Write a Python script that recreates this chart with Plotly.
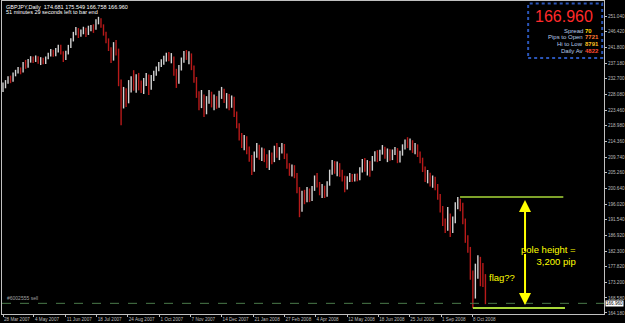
import pandas as pd
import plotly.graph_objects as go

# ---------------- data (3-calendar-day bars) ----------------
first_open = 229.5
closes = [
    230.2, 231.8, 232.6, 232.0, 233.9, 234.6, 235.4, 234.7, 236.9, 236.1,
    237.8, 238.6, 238.0, 238.9, 237.9, 238.4, 237.4, 238.6, 239.7, 240.6,
    239.9, 241.0, 241.9, 240.3, 238.4, 240.1, 242.0, 243.9, 245.8, 247.2,
    245.6, 246.3, 247.1, 245.9, 247.4, 247.9, 247.3, 249.4, 250.1, 248.2,
    246.1, 244.2, 241.6, 238.4, 242.6, 241.0, 232.0, 224.6, 228.6, 226.3,
    229.8, 232.4, 230.1, 233.0, 231.1, 228.9, 231.7, 233.6, 230.4, 232.5,
    234.4, 235.6, 236.9, 237.4, 238.8, 239.6, 238.6, 238.9, 234.8, 231.8,
    235.9, 238.1, 240.2, 239.0, 240.0, 236.2, 232.5, 228.4, 225.4, 227.5,
    223.8, 226.6, 228.6, 225.2, 227.0, 224.8, 228.4, 229.5, 226.3, 228.0,
    224.9, 226.9, 222.6, 219.3, 215.7, 213.9, 215.4, 212.2, 209.8, 206.4,
    210.6, 212.9, 210.3, 211.7, 209.6, 207.9, 210.4, 208.8, 212.4, 210.5,
    211.9, 213.0, 210.1, 207.3, 205.4, 206.8, 204.6, 200.3, 195.1, 198.6,
    196.9, 199.8, 197.4, 200.4, 203.6, 202.1, 199.4, 200.8, 198.6, 201.9,
    205.3, 207.9, 205.8, 207.6, 205.2, 203.4, 201.0, 203.4, 204.3, 203.0,
    204.1, 203.5, 206.0, 208.2, 206.6, 208.4, 206.5, 209.3, 210.6, 209.2,
    211.2, 212.4, 210.1, 211.5, 209.6, 211.3, 212.1, 208.8, 210.9, 212.8,
    214.2, 213.1, 214.4, 212.0, 213.2, 210.8, 209.2, 206.3, 203.4, 204.6,
    202.3, 203.6, 201.5, 198.4, 194.7, 190.8, 189.2, 192.6, 188.4, 191.2,
    195.8, 196.2, 195.3, 191.0, 186.0, 183.1, 175.8, 170.2, 176.1, 179.9,
    175.5, 174.681, 166.960,
]
highs = [
    231.6, 232.3, 233.4, 233.6, 234.5, 235.3, 236.1, 236.0, 237.6, 238.2,
    238.5, 239.3, 239.2, 239.5, 239.3, 239.0, 238.8, 239.2, 240.3, 241.4,
    241.2, 241.7, 242.6, 242.6, 240.7, 240.9, 242.6, 244.5, 246.4, 247.8,
    247.5, 247.1, 247.9, 247.6, 248.2, 248.4, 248.6, 250.1, 250.8, 250.4,
    248.6, 246.4, 244.5, 241.9, 243.4, 244.0, 241.5, 232.5, 230.3, 229.9,
    232.3, 233.4, 235.2, 234.0, 234.4, 232.2, 232.9, 234.4, 233.9, 233.8,
    235.0, 236.3, 237.6, 238.4, 239.4, 240.3, 240.5, 240.2, 239.2, 235.6,
    236.7, 238.9, 240.8, 241.1, 240.7, 240.1, 236.6, 233.2, 229.0, 229.4,
    228.1, 227.6, 229.4, 228.9, 228.1, 227.6, 229.2, 230.3, 229.8, 228.5,
    228.2, 227.8, 227.4, 223.1, 219.7, 216.8, 216.2, 215.9, 212.9, 210.4,
    211.4, 213.9, 213.4, 212.6, 212.3, 210.6, 211.8, 211.1, 213.1, 213.9,
    212.7, 213.9, 213.6, 210.8, 208.0, 207.6, 207.4, 205.1, 201.0, 199.9,
    200.2, 201.0, 200.6, 201.3, 204.4, 205.1, 202.5, 201.9, 201.4, 202.7,
    206.1, 208.9, 208.6, 208.5, 208.0, 206.1, 204.3, 204.2, 205.1, 204.8,
    204.9, 205.0, 206.8, 209.2, 209.5, 208.9, 208.6, 210.1, 211.5, 211.8,
    211.9, 213.3, 212.8, 212.3, 212.1, 212.0, 212.7, 212.4, 211.6, 213.5,
    214.9, 215.6, 215.2, 214.7, 213.9, 213.5, 211.4, 209.6, 207.0, 206.0,
    205.2, 204.4, 204.0, 201.9, 199.0, 195.5, 191.8, 195.2, 193.3, 192.4,
    196.6, 198.1, 197.6, 196.4, 191.8, 186.9, 183.5, 176.6, 178.6, 181.1,
    180.6, 178.8, 175.549,
]
lows = [
    228.8, 229.9, 231.2, 231.4, 231.8, 233.4, 234.2, 234.0, 234.5, 235.6,
    235.9, 237.4, 237.3, 237.6, 237.1, 236.7, 236.9, 237.0, 238.4, 239.2,
    239.1, 239.3, 240.4, 239.8, 237.6, 238.2, 239.8, 241.7, 243.6, 245.4,
    244.6, 245.0, 245.7, 244.9, 245.5, 246.6, 246.1, 247.0, 248.6, 247.6,
    245.3, 243.1, 240.8, 237.3, 238.0, 239.5, 230.5, 219.1, 224.0, 224.4,
    225.5, 228.7, 229.2, 228.6, 229.3, 228.5, 228.2, 230.6, 227.9, 229.5,
    232.0, 233.6, 234.9, 236.1, 236.8, 237.7, 237.8, 237.2, 233.6, 230.0,
    231.2, 235.1, 237.4, 238.2, 236.9, 235.2, 231.5, 227.1, 223.5, 224.1,
    221.5, 222.3, 225.4, 224.3, 223.5, 223.9, 224.2, 226.8, 225.6, 224.0,
    223.5, 224.2, 221.5, 218.2, 214.6, 212.4, 211.8, 210.6, 208.4, 204.5,
    205.5, 209.6, 209.0, 208.6, 208.3, 206.6, 206.0, 207.7, 208.3, 209.6,
    208.9, 210.8, 209.2, 206.4, 204.3, 204.1, 203.6, 199.2, 192.2, 193.8,
    196.0, 196.6, 196.6, 196.9, 199.9, 200.9, 198.6, 197.8, 197.8, 198.2,
    201.4, 204.6, 204.9, 204.2, 204.0, 202.6, 199.5, 200.3, 202.5, 202.5,
    202.6, 202.7, 203.0, 205.3, 205.5, 204.4, 204.0, 205.8, 208.5, 208.3,
    208.6, 210.5, 209.3, 208.3, 208.7, 208.9, 210.4, 208.0, 208.2, 210.2,
    212.0, 212.4, 211.8, 211.0, 210.6, 209.8, 208.0, 205.4, 202.5, 202.1,
    201.2, 200.8, 200.1, 197.3, 193.6, 189.6, 187.6, 188.2, 186.4, 187.6,
    190.4, 194.5, 193.9, 190.1, 184.7, 181.8, 173.9, 165.6, 168.4, 174.2,
    172.0, 171.8, 166.758,
]
opens = [first_open] + closes[:-1]
dates = pd.date_range("2007-03-28", periods=len(closes), freq="3D")

date_ticks = ["2007-03-28", "2007-05-04", "2007-06-11", "2007-07-18", "2007-08-24",
              "2007-10-01", "2007-11-07", "2007-12-14", "2008-01-21", "2008-02-27",
              "2008-04-04", "2008-05-12", "2008-06-18", "2008-07-25", "2008-09-01",
              "2008-10-08"]
date_labels = ["28 Mar 2007", "4 May 2007", "11 Jun 2007", "18 Jul 2007", "24 Aug 2007",
               "1 Oct 2007", "7 Nov 2007", "14 Dec 2007", "21 Jan 2008", "27 Feb 2008",
               "4 Apr 2008", "12 May 2008", "18 Jun 2008", "25 Jul 2008", "1 Sep 2008",
               "8 Oct 2008"]
price_ticks = [251.040, 246.420, 241.800, 237.180, 232.700, 228.080, 223.460, 218.980,
               214.360, 209.740, 205.260, 200.640, 196.020, 191.540, 186.920, 182.300,
               177.820, 173.200, 168.580, 164.180]

sell_order_price = 167.0
spread = 70
daily_avg = 4822

pole_top = max(highs[-15:])
pole_bottom = min(lows)

# ---------------- figure ----------------
FONT = "Liberation Sans"
AX = "#c0c0c0"
TICKFONT = dict(family=FONT, size=4.6, color="#bdbdbd")

fig = go.Figure()
fig.add_trace(go.Ohlc(
    x=dates, open=opens, high=highs, low=lows, close=closes,
    increasing=dict(line=dict(color="#d2d2d2", width=1.4)),
    decreasing=dict(line=dict(color="#b81a1a", width=1.4)),
    tickwidth=0, hoverinfo="skip", showlegend=False,
))

shapes = [
    dict(type="line", xref="paper", x0=0, x1=1, yref="y", y0=sell_order_price, y1=sell_order_price,
         line=dict(color="#4a7a4a", width=1, dash="dash")),
    dict(type="line", xref="x", x0="2008-09-23 17:00", x1="2009-01-25", yref="y",
         y0=pole_top, y1=pole_top, line=dict(color="#a8d838", width=1.5)),
    dict(type="line", xref="x", x0="2008-10-09", x1="2009-01-27", yref="y",
         y0=pole_bottom, y1=pole_bottom, line=dict(color="#a8d838", width=2)),
    dict(type="rect", xref="paper", yref="paper", x0=0.874, x1=0.997, y0=0.818, y1=0.992,
         fillcolor="black", line=dict(color="#2a55b8", width=2, dash="dot")),
]

last_o, last_h, last_l, last_c = opens[-1], highs[-1], lows[-1], closes[-1]
pips_to_open = round((last_o - last_c) * 1000)
hi_to_low = round((last_h - last_l) * 1000)

ann = []
ann.append(dict(xref="paper", yref="paper", x=0.003, y=0.997, xanchor="left", yanchor="top",
                text=f"GBPJPY,Daily  {last_o:.3f} {last_h:.3f} {last_l:.3f} {last_c:.3f}",
                showarrow=False, font=dict(family=FONT, size=5.5, color="white")))
ann.append(dict(xref="paper", yref="paper", x=0.003, y=0.981, xanchor="left", yanchor="top",
                text="51 minutes 29 seconds left to bar end",
                showarrow=False, font=dict(family=FONT, size=5.5, color="white")))
ann.append(dict(xref="paper", yref="y", x=0.005, y=sell_order_price, xanchor="left", yanchor="bottom",
                text="#6002555 sell", showarrow=False, font=dict(family=FONT, size=5, color="#a0a0a0")))
ann.append(dict(xref="paper", yref="y", x=1.0, y=last_c, xanchor="left", yanchor="middle", xshift=1,
                text=f"{last_c:.3f}", showarrow=False, bgcolor="white", borderpad=0,
                font=dict(family=FONT, size=4.6, color="black")))
arrow_x = "2008-12-10 07:00"
mid = (pole_top + pole_bottom) / 2
for tip in (pole_top, pole_bottom):
    ann.append(dict(xref="x", yref="y", x=arrow_x, y=tip, axref="x", ayref="y", ax=arrow_x, ay=mid,
                    text="", showarrow=True, arrowhead=2, arrowsize=1.2, arrowwidth=2,
                    arrowcolor="#ffff00", standoff=3))
ann.append(dict(xref="paper", yref="paper", x=0.957, y=0.188, xanchor="right", yanchor="middle",
                text="pole height =<br>3,200 pip", align="right", showarrow=False,
                font=dict(family=FONT, size=9.5, color="#ffff00")))
ann.append(dict(xref="paper", yref="paper", x=0.806, y=0.118, xanchor="left", yanchor="middle",
                text="flag??", showarrow=False, font=dict(family=FONT, size=9.5, color="#ffff00")))
ann.append(dict(xref="paper", yref="paper", x=0.934, y=0.949, xanchor="center", yanchor="middle",
                text=f"{last_c:.3f}", showarrow=False, font=dict(family=FONT, size=16, color="#ff2a2a")))
rows = [("Spread", f"{spread}", "#ffd700", 0.904),
        ("Pips to Open", f"{pips_to_open}", "#ff7a30", 0.884),
        ("Hi to Low", f"{hi_to_low}", "#ffc020", 0.862),
        ("Daily Av", f"{daily_avg}", "#ff4a30", 0.840)]
for lab, val, col, yy in rows:
    ann.append(dict(xref="paper", yref="paper", x=0.966, y=yy, xanchor="right", yanchor="middle",
                    text=lab, showarrow=False, borderpad=0,
                    font=dict(family=FONT, size=6, color="#b8cce8")))
    ann.append(dict(xref="paper", yref="paper", x=0.967, y=yy, xanchor="left", yanchor="middle",
                    text=f"<b>{val}</b>", showarrow=False, borderpad=0,
                    font=dict(family=FONT, size=6, color=col)))

fig.update_layout(
    width=625, height=323,
    margin=dict(l=2, r=21, t=1, b=9),
    paper_bgcolor="black", plot_bgcolor="black",
    shapes=shapes, annotations=ann, showlegend=False,
    font=dict(family=FONT, size=5, color=AX),
)
fig.update_xaxes(
    type="date", range=["2007-03-26 19:25", "2009-03-14 14:00"], automargin=False,
    rangeslider=dict(visible=False), showgrid=False, zeroline=False,
    showline=True, linecolor=AX, linewidth=1, mirror=True,
    tickmode="array", tickvals=date_ticks, ticktext=date_labels, tickangle=0,
    ticks="outside", ticklen=2, tickcolor=AX, ticklabelposition="outside right",
    ticklabelstandoff=0, tickfont=TICKFONT,
)
fig.update_yaxes(
    range=[163.88, 255.43], side="right", automargin=False, showgrid=False, zeroline=False,
    showline=True, linecolor=AX, linewidth=1, mirror=True,
    tickmode="array", tickvals=price_ticks, ticktext=[f"{v:.3f}" for v in price_ticks],
    ticks="outside", ticklen=2, tickcolor=AX, ticklabelstandoff=0,
    tickfont=TICKFONT,
)

fig.write_html("out.html")
